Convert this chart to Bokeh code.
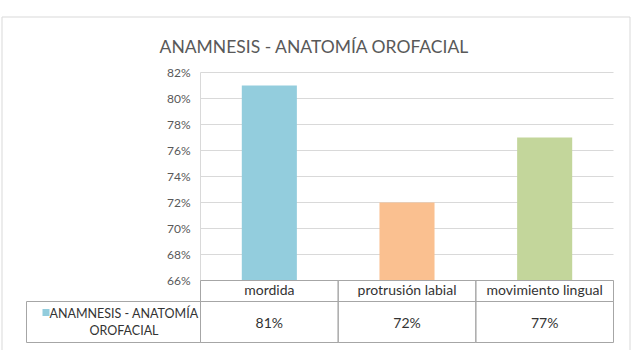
from bokeh.plotting import figure
from bokeh.models import ColumnDataSource, Range1d
from bokeh.core.properties import value
from bokeh.embed import file_html
from bokeh.resources import INLINE

# ---- data ----
chart_title = "ANAMNESIS - ANATOMÍA OROFACIAL"
categories = ["mordida", "protrusión labial", "movimiento lingual"]
values = [0.81, 0.72, 0.77]
series_label_lines = ["ANAMNESIS - ANATOMÍA", "OROFACIAL"]
y_ticks = [0.66, 0.68, 0.70, 0.72, 0.74, 0.76, 0.78, 0.80, 0.82]

# ---- layout / styles ----
bar_colors = ["#93CDDD", "#FAC090", "#C3D69B"]
FONT = "Lato"
W, H = 632, 350
FL, FR, FT, FB = 200, 613, 72, 280      # plot area (pixels)
ROW2, TBL_BOT, TBL_LEFT = 301, 342, 26  # data-table geometry (pixels)
GRID = "#d9d9d9"
TLINE = "#a6a6a6"
TXT = "#333333"
SUB = "#595959"

n = len(categories)
col_w = (FR - FL) / n
centers = [i + 0.5 for i in range(n)]
y_min, y_max = y_ticks[0], y_ticks[-1]
s = (y_max - y_min) / (FB - FT)          # value units per pixel

def xc(px):
    """pixel column -> category-axis units"""
    return (px - FL) / col_w

p = figure(width=W, height=H, output_backend="svg", toolbar_location=None,
           x_range=Range1d(xc(0), xc(W)),
           y_range=Range1d(y_min - (H - FB) * s, y_max + FT * s),
           x_axis_location=None, y_axis_location=None,
           min_border=0, min_border_left=0, min_border_right=0,
           min_border_top=0, min_border_bottom=0)
p.outline_line_color = None
p.grid.visible = False
p.background_fill_color = "white"
p.border_fill_color = "white"
p.extra_y_ranges = {"px": Range1d(H, 0)}   # pixel rows for table / title

# outer chart border
p.quad(left=[xc(1.5)], right=[xc(629.5)], top=[16.5], bottom=[H + 5], y_range_name="px",
       fill_color=None, line_color=GRID, line_width=1)

# title
p.text(x=[xc(314)], y=[46], text=[chart_title], y_range_name="px",
       text_align="center", text_baseline="alphabetic", text_font=value(FONT),
       text_font_size=value("17.5px"), text_color=SUB)

# gridlines + value axis
p.segment(x0=[0] * len(y_ticks), x1=[n] * len(y_ticks), y0=y_ticks, y1=y_ticks,
          line_color=GRID, line_width=1)
p.segment(x0=[0], x1=[0], y0=[y_min], y1=[y_max], line_color=GRID, line_width=1)
p.text(x=[0] * len(y_ticks), y=y_ticks, text=[f"{round(t * 100)}%" for t in y_ticks],
       x_offset=-10, text_align="right", text_baseline="middle",
       text_font=value(FONT), text_font_size=value("12px"), text_color=SUB)

# bars
src = ColumnDataSource(dict(x=centers, val=values, color=bar_colors))
p.vbar(x="x", top="val", bottom=y_min, width=0.4, fill_color="color",
       line_color=None, source=src)

# data table: category row, value row, series cell
left_edges = list(range(n))
right_edges = [i + 1 for i in range(n)]
p.quad(left=left_edges, right=right_edges, top=[FB] * n, bottom=[ROW2] * n,
       y_range_name="px", fill_color=None, line_color=TLINE, line_width=1)
p.quad(left=left_edges, right=right_edges, top=[ROW2] * n, bottom=[TBL_BOT] * n,
       y_range_name="px", fill_color=None, line_color=TLINE, line_width=1)
p.quad(left=[xc(TBL_LEFT)], right=[0], top=[ROW2], bottom=[TBL_BOT],
       y_range_name="px", fill_color=None, line_color=TLINE, line_width=1)

p.text(x=centers, y=[289] * n, text=categories, y_range_name="px",
       text_align="center", text_baseline="alphabetic", text_font=value(FONT),
       text_font_size=value("14px"), text_color=TXT)
p.text(x=centers, y=[322] * n, text=[f"{round(v * 100)}%" for v in values],
       y_range_name="px", text_align="center", text_baseline="alphabetic",
       text_font=value(FONT), text_font_size=value("14px"), text_color=TXT)

# legend key + series name
p.quad(left=[xc(42)], right=[xc(49)], top=[308.5], bottom=[315.5], y_range_name="px",
       fill_color=bar_colors[0], line_color=None)
p.text(x=[xc(123.5)] * len(series_label_lines),
       y=[313 + 17 * k for k in range(len(series_label_lines))],
       text=series_label_lines, y_range_name="px", text_align="center",
       text_baseline="alphabetic", text_font=value(FONT),
       text_font_size=value("12.5px"), text_color=TXT)

open("out.html", "w").write(file_html(p, INLINE))
